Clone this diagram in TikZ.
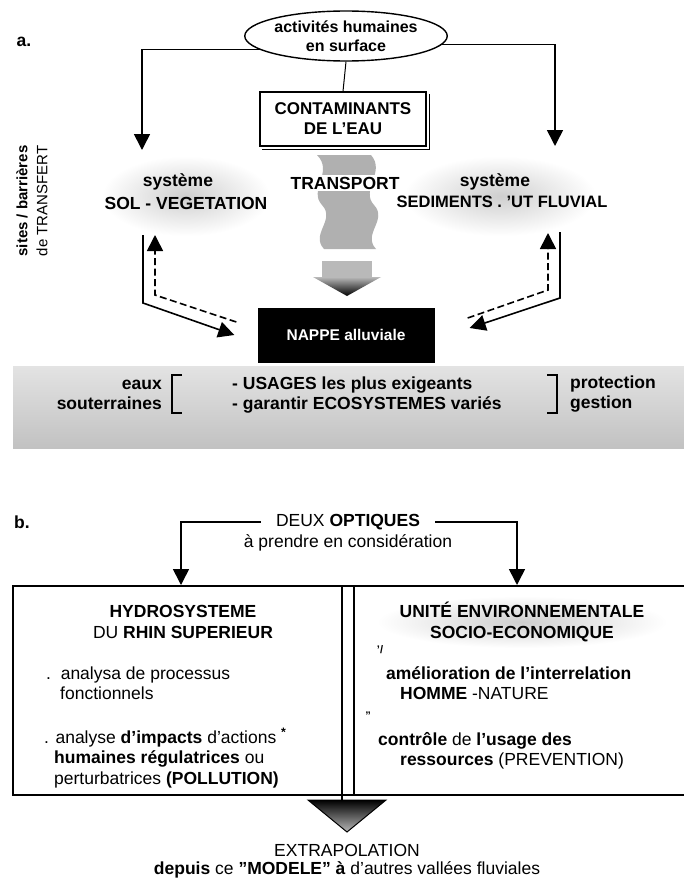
\documentclass[tikz,border=0pt]{standalone}
\usepackage{fontspec}
\setmainfont{Liberation Sans}
\usetikzlibrary{arrows.meta,shapes.geometric,calc}
\begin{document}
\begin{tikzpicture}[x=1pt,y=-1pt,
  txt/.style={inner sep=0pt, font=\fontsize{17.5}{20.5}\selectfont, align=center},
  bt/.style={inner sep=0pt, font=\fontsize{17.5}{20.5}\selectfont\bfseries, align=center},
  ln/.style={line width=1.6pt},
  arr/.style={ln, -{Triangle[width=16pt,length=16pt]}},
  darr/.style={ln, dash pattern=on 7pt off 3.5pt, -{Triangle[width=16pt,length=16pt]}},
  blob/.style={inner color=gray!38, outer color=white},
  ]
\useasboundingbox (0,0) rectangle (684,886);
\fill[white] (0,0) rectangle (684,886);

% ---------------- part a ----------------
\node[bt] (la) at (24,42) {a.};
\node[bt, rotate=90, font=\fontsize{15}{20}\selectfont\bfseries] (sites) at (32,201)
      {sites / barrières\\\mdseries de TRANSFERT};

\node[ellipse, draw, line width=1.4pt, minimum width=174pt, minimum height=50pt,
      inner sep=0pt, align=center, font=\fontsize{16}{19.5}\selectfont\bfseries] (act) at (346,36)
      {activités humaines\\en surface};

\node[draw, line width=1.3pt, minimum width=166pt, minimum height=54pt, bt,
      font=\fontsize{17}{20}\selectfont\bfseries] (cont) at (343,119)
      {CONTAMINANTS\\DE L'EAU};
\draw[line width=1.1pt] ($(cont.north east)+(2.5,2.5)$) -- ($(cont.south east)+(2.5,2.5)$)
      -- ($(cont.south west)+(2.5,2.5)$);
\draw[line width=1pt] (act.south) -- (cont.north);

\coordinate (tl) at (142,150);
\coordinate (tr) at (555,146);
\draw[arr] (act.189) -| (tl);
\draw[arr] (act.-5) -| (tr);

% systems
\shade[blob] (186,196) ellipse (84 and 40);
\shade[blob] (500,196) ellipse (96 and 40);
\node[bt] (sys1) at (178,182) {système};
\node[bt] (sol) at (186,203) {SOL - VEGETATION};
\node[bt] (sys2) at (495,182) {système};
\node[bt, font=\fontsize{16.5}{20}\selectfont\bfseries] (sed) at (502,202) {SEDIMENTS . 'UT FLUVIAL};

% transport band
\fill[gray!62] (317,155) -- (371,155)
   .. controls (386,172) and (360,190) .. (374,205)
   .. controls (388,220) and (362,234) .. (376,249)
   -- (324,249)
   .. controls (310,234) and (336,220) .. (322,205)
   .. controls (308,190) and (334,172) .. (317,155) -- cycle;
\node[bt, fill=white, inner sep=2pt] (trans) at (345,183) {TRANSPORT};
\fill[gray!55] (322,261) rectangle (372,277);
\shade[top color=gray!55, bottom color=black] (313,277) -- (381,277) -- (347,296) -- cycle;

% nappe
\node[fill=black, text=white, bt, font=\fontsize{15.5}{19}\selectfont\bfseries,
      minimum width=177pt, minimum height=55pt] (nappe) at (346,335)
      {NAPPE alluviale};

\coordinate (l1) at (143,235); \coordinate (l2) at (143,303);
\coordinate (ltip) at ($(nappe.west)+(-23,0)$);
\draw[arr] (l1) -- (l2) -- (ltip);
\coordinate (dl0) at ($(nappe.west)+(-21,-13)$); \coordinate (dl1) at (155,295); \coordinate (dl2) at (155,235);
\draw[darr] (dl0) -- (dl1) -- (dl2);

\coordinate (r1) at (560,232); \coordinate (r2) at (560,298);
\coordinate (rtip) at ($(nappe.east)+(35,-7)$);
\draw[arr] (r1) -- (r2) -- (rtip);
\coordinate (dr0) at ($(nappe.east)+(33,-17)$); \coordinate (dr1) at (548,290); \coordinate (dr2) at (548,233);
\draw[darr] (dr0) -- (dr1) -- (dr2);

% groundwater band
\shade[top color=gray!22, bottom color=gray!48] (13,366) rectangle (684,448);
\node[bt, anchor=east, align=right] (eaux) at (162,395) {eaux\\souterraines};
\draw[line width=1.2pt] (182,375) -- (172,375) -- (172,413) -- (182,413);
\node[bt, anchor=west, align=left] (usages) at (232,395)
      {- USAGES les plus exigeants\\- garantir ECOSYSTEMES variés};
\draw[line width=1.2pt] (547,375) -- (557,375) -- (557,413) -- (547,413);
\node[bt, anchor=west, align=left] (prot) at (570,394) {protection\\gestion};

% ---------------- part b ----------------
\node[bt] (lb) at (22,522) {b.};
\node[txt, inner xsep=15pt] (deux) at (348,522) {DEUX \textbf{OPTIQUES}};
\node[txt] (pren) at (348,543) {à prendre en considération};
\coordinate (bl) at (181,585);
\coordinate (br) at (517,585);
\draw[arr] (deux.west) -| (bl);
\draw[arr] (deux.east) -| (br);

\draw[ln] (684,586) -- (13,586) -- (13,795) -- (684,795);
\draw[ln] (342,586) -- (342,801);
\draw[ln] (354,586) -- (354,795);

\node[bt] (hyd) at (183,622) {HYDROSYSTEME\\\mdseries DU \bfseries RHIN SUPERIEUR};
\node[txt, anchor=west, align=left] (p1) at (46,683)
      {.\ \ analysa de processus\\\hspace*{14pt}fonctionnels};
\node[txt, anchor=west, align=left] (p2) at (44,758)
      {. analyse \textbf{d'impacts} d'actions \textsuperscript{\textbf{*}}\\
       \hspace*{10pt}\textbf{humaines régulatrices} ou\\
       \hspace*{10pt}perturbatrices \textbf{(POLLUTION)}};

\shade[blob] (522,622) ellipse (145 and 26);
\node[bt] (unite) at (522,622) {UNITÉ ENVIRONNEMENTALE\\SOCIO-ECONOMIQUE};
\node[bt, font=\fontsize{11}{12}\selectfont\bfseries] (m1) at (380,650) {'/};
\node[txt, anchor=west, align=left] (q1) at (386,683)
      {\textbf{amélioration de l'interrelation}\\\hspace*{14pt}\textbf{HOMME} -NATURE};
\node[bt, font=\fontsize{11}{12}\selectfont\bfseries] (m2) at (368,716) {''};
\node[txt, anchor=west, align=left] (q2) at (378,751)
      {\textbf{contrôle} de \textbf{l'usage des}\\\hspace*{22pt}\textbf{ressources} (PREVENTION)};

\shade[top color=black, bottom color=gray!55] (308,800) -- (386,800) -- (347,832) -- cycle;
\draw[line width=1pt] (308,800) -- (386,800) -- (347,832) -- cycle;
\node[txt] (extra) at (347,850) {EXTRAPOLATION};
\node[txt] (dep) at (347,870) {\textbf{depuis} ce \textbf{"MODELE"} \textbf{à} d'autres vallées fluviales};
\end{tikzpicture}
\end{document}
